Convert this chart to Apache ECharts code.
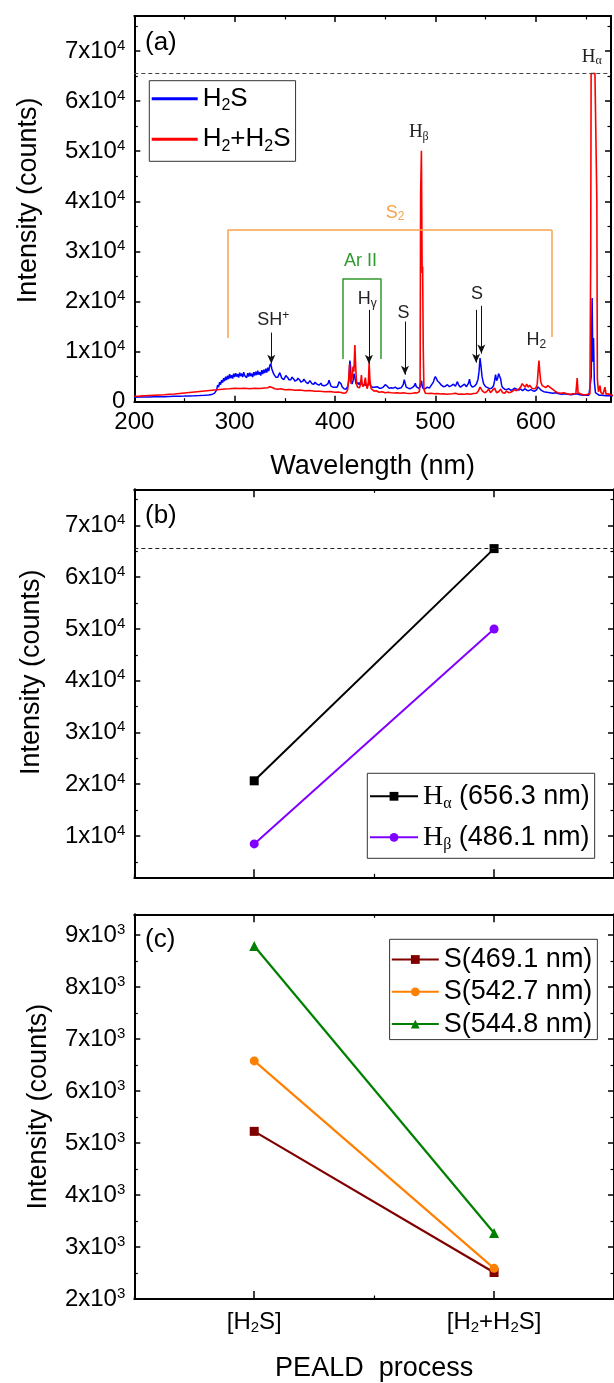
<!DOCTYPE html>
<html><head><meta charset="utf-8">
<script src="https://cdn.jsdelivr.net/npm/echarts@6/dist/echarts.min.js"></script>
<style>html,body{margin:0;padding:0;background:#fff}#c{width:614px;height:1383px}</style>
</head><body><div id="c"></div>
<script>
// ---------------- DATA ----------------
// (a) OES spectra (wavelength nm, intensity counts)
const wlH2S = [200,205,210,215,220,225,230,235,240,245,250,255,260,265,270,274,278,280,282,283,284,285,286,287,288,289,290,291,292,293,294,295,296,297,298,299,300,301,302,303,304,305,306,307,308,309,310,311,312,313,314,315,316,317,318,319,320,321,322,323,324,325,326,327,328,329,330,331,332,333,334,335,336,337,338,339,340,341,342,343,344,345,346,347,348,349,350,351,352,353,354,355,356,357,358,359,360,361,362,363,364,365,366,367,368,369,370,371,372,373,374,375,376,377,378,379,380,381,382,383,384,385,386,387,388,389,390,391,392,393,394,395,396,397,398,399,400,401,402,403,404,405,406,407,408,409,410,411,412,413,414,414.8,415.5,416.3,417,418,419,420,421,422,423,424,425,426,427,428,429,430,431,432,433,434,435,436,437,438,439,440,442,444,446,448,450,451,452,454,456,458,460,462,464,466,468,469,470,471,473,475,477,479,480,481,482,484,485.5,486.2,487,488,490,492,494,496,498,499,500,501,502,503,504,506,508,510,512,514,516,518,520,521,522,523,525,527,529,531,533,534,535,537,539,541,542.5,543.5,544.5,545.5,546.5,548,550,552,554,556,558,559,560,561,562,563,564,565,566,567,569,571,573,575,577,579,581,583,585,587,589,591,593,595,597,599,601,602,603,604,606,608,611,614,617,620,623,626,629,632,635,638,641,644,647,650,653,654.5,655.3,656.2,656.9,657.6,658.4,659.5,661,663,666,670,675,680];
const intH2S = [900,950,930,960,980,1000,990,1050,1080,1100,1120,1150,1180,1220,1280,1350,1500,1700,2300,3300,2900,3900,3400,4300,3800,4700,4100,5000,4300,5200,4500,5500,4700,5300,4600,5600,4900,5700,5000,5500,4800,5800,5100,5600,4900,5900,5200,5500,4800,5700,5000,5800,5100,5600,4900,5900,5200,6000,5300,6200,5400,5900,5200,6300,5500,6400,5700,6600,5800,6800,6100,7200,7600,6600,6000,5500,5200,4900,4700,4900,5400,5800,5200,4700,4500,4400,4700,5200,5400,4800,4400,4200,4400,4900,5000,4500,4100,4000,4300,4700,4800,4300,3900,3800,4100,4500,4400,3900,3600,3600,3900,4200,4000,3600,3400,3500,3900,3900,3500,3300,3300,3600,3700,3300,3100,3200,3400,3300,3100,3600,4300,3700,3100,2900,2900,3000,2900,2800,2900,3300,4000,4200,3600,3000,2700,2600,2500,2500,2700,3200,5000,8200,7000,4000,3500,4200,5600,4600,3500,3300,3800,3400,3700,4200,3400,3100,3300,3700,3200,3000,3400,4400,3300,3000,2900,3100,2900,2800,3000,2700,2700,2900,3400,3700,3100,2700,2800,2700,2900,2600,2700,2800,3400,4400,3600,2900,2700,2600,2800,3200,3700,3000,2700,2600,3500,4200,3000,2600,2600,2900,2700,3300,3900,4600,5000,4800,4200,4500,3800,3300,3000,3100,3400,3000,3200,3500,3100,3600,4000,3400,2900,3200,3500,3000,3700,4500,3400,2900,3100,3600,4500,6000,8700,7000,5000,3600,3000,2800,2600,2700,3200,4200,5400,4200,4600,5600,5900,4600,3300,2800,2500,2400,2600,2300,2400,2700,2500,2300,2500,2200,2600,2300,2200,2400,2200,2100,2400,3000,3300,2600,2200,2000,1900,1800,1700,1800,1600,1500,1600,1500,1400,1500,1600,1400,1300,1300,1300,1500,5000,20700,8000,12700,4000,1800,1500,1300,1300,1200,1200,1200];
const wlH2H2S = [200,205,210,215,220,225,230,235,240,245,250,255,260,265,270,275,280,285,290,295,300,305,310,315,320,325,330,333,335,336.5,338,340,343,346,350,355,360,365,370,375,380,385,390,395,400,403,406,409,411,412.5,413.5,414.5,415.3,416,417,418,418.8,419.8,420.7,421.5,422.5,423.5,424.5,425.5,426.3,427,428,429,430.2,431,432,433.2,434,434.8,436,437.5,439,441,444,447,450,453,456,459,462,465,468,471,474,477,480,482,484,484.8,485.3,486.1,486.8,487.3,487.9,488.6,490,493,496,499,502,505,508,511,514,517,520,523,526,529,532,535,538,541,543,544.5,545.5,547,549,551,553,555,557,559,561,563,565,567,569,571,573,575,577,579,581,583,585,586.5,588,589.5,591,592.5,594,596,598,600,601.5,602.5,603.2,604,605,606.5,608,610,612,614,616,618,620,622,625,628,631,634,637,640,641.3,642.2,644,647,650,652,654,654.8,655.2,657,659,660.4,660.9,661.4,662.5,664,665,667,669,670,672,674,677,680];
const intH2H2S = [1100,1120,1200,1250,1300,1350,1400,1500,1550,1650,1750,1850,1950,2050,2150,2250,2350,2450,2550,2600,2700,2650,2700,2600,2700,2650,2750,2800,3000,3100,2800,2600,2500,2600,2400,2450,2300,2350,2200,2250,2100,2100,2000,2050,1900,1950,1850,1700,1800,2300,4000,7500,4500,3600,4800,7000,6000,11300,6500,3600,2900,3200,2800,3600,5300,3600,3000,3400,4800,3500,2600,3500,7800,4200,2600,2300,2100,2200,1900,2000,1800,1900,1800,1750,1800,1700,1800,1700,1650,1700,1800,1750,2000,4000,41300,50100,25700,27000,11000,2500,1700,1650,1700,1600,1650,1550,1600,1500,1550,1600,1700,1500,1550,1500,1600,1500,1650,1700,2200,2900,3100,2100,1800,2000,2500,1800,2300,2700,1800,2000,2500,1800,1700,2100,1800,1900,2100,2400,2200,2500,2900,3600,3400,2900,3500,2900,3300,2700,2600,2700,3500,6500,8200,6000,4000,3200,3000,2800,3200,2900,2600,2300,2000,1800,1700,1800,1600,1500,1600,1600,4700,1800,1500,1400,1400,1500,1600,30000,65535,65535,65535,65535,40000,4500,2000,3200,1800,1500,2900,1500,1600,1400,1300,1300];
const saturationLevel = 65535;
// (b), (c) line intensities
const processCats = ['[H2S]', '[H2+H2S]'];
const hAlpha = [20650, 65535];
const hBeta = [8460, 50000];
const s4691 = [5225, 2510];
const s5427 = [6580, 2590];
const s5448 = [8790, 3270];
// tick values
const yTicksB = [10000,20000,30000,40000,50000,60000,70000];
const yMinorTicksB = [5000,15000,25000,35000,45000,55000,65000,75000];

// ---------------- STYLE ----------------
const SANS = '"Liberation Sans", Arial, sans-serif';
const SERIF = '"Liberation Serif", "Times New Roman", serif';
const BLK = '#000';
const tickRich = {
  m: {fontSize: 24, fontFamily: SANS, color: BLK, lineHeight: 26},
  e: {fontSize: 15, fontFamily: SANS, color: BLK, lineHeight: 18, verticalAlign: 'top'},
  s: {fontSize: 15, fontFamily: SANS, color: BLK, lineHeight: 10, verticalAlign: 'bottom'}
};
function subify(str, main, sub) {
  return '{' + main + '|' + str.replace(/(\d)/g, '}{' + sub + '|$1}{' + main + '|') + '}';
}
const nameStyle = {fontSize: 27, fontFamily: SANS, color: BLK};
const axisLine = {show: true, onZero: false, lineStyle: {color: BLK, width: 2}};
const tickMaj = {show: true, inside: true, length: 6, lineStyle: {color: BLK, width: 1.5}};
const tickMin = {show: true, splitNumber: 2, length: 3.5, lineStyle: {color: BLK, width: 1.2}};

function valAxis(extra) {
  return Object.assign({
    type: 'value', axisLine: axisLine, axisTick: tickMaj, minorTick: tickMin,
    splitLine: {show: false}, minorSplitLine: {show: false}, axisLabel: {show: false}
  }, extra);
}
const expLabel = (p) => (v) => {
  const step = Math.pow(10, p);
  if (v === 0) return '{m|0}';
  if (v % step !== 0) return '';
  return '{m|' + (v / step) + 'x10}{e|' + p + '}';
};

const xAxes = [], yAxes = [];
// ---- grid 0 (a)
xAxes.push(valAxis({gridIndex: 0, position: 'bottom', min: 200, max: 675, interval: 100,
  axisLabel: {show: true, margin: 9, fontSize: 24, fontFamily: SANS, color: BLK,
    formatter: v => (v % 100 === 0 ? String(v) : '')},
  name: 'Wavelength (nm)', nameLocation: 'middle', nameGap: 51, nameTextStyle: nameStyle}));
xAxes.push(valAxis({gridIndex: 0, position: 'top', min: 200, max: 675, interval: 100}));
yAxes.push(valAxis({gridIndex: 0, position: 'left', min: 0, max: 77000, interval: 10000,
  axisLabel: {show: true, margin: 9, formatter: expLabel(4), rich: tickRich},
  name: 'Intensity (counts)', nameLocation: 'middle', nameGap: 92,
  nameTextStyle: Object.assign({padding: [0, 0, 0, 17]}, nameStyle)}));
yAxes.push(valAxis({gridIndex: 0, position: 'right', min: 0, max: 77000, interval: 10000}));
// ---- grid 1 (b)
function catAxes(g, withLabels, name) {
  const base = {type: 'category', gridIndex: g, data: processCats, boundaryGap: true,
    splitLine: {show: false}};
  const labelCfg = withLabels ? {show: true, margin: 10, formatter: v => subify(v, 'm', 's'), rich: tickRich}
                              : {show: false};
  const main = Object.assign({}, base, {position: 'bottom', axisLine: axisLine,
    axisTick: {show: true, inside: true, length: 8, alignWithLabel: true, lineStyle: {color: BLK, width: 1.5}},
    axisLabel: labelCfg});
  if (name) Object.assign(main, {name: name, nameLocation: 'middle', nameGap: 56, nameTextStyle: nameStyle});
  const minor = Object.assign({}, base, {position: 'bottom', axisLine: {show: false},
    axisTick: {show: true, inside: true, length: 3.5, alignWithLabel: false, lineStyle: {color: BLK, width: 1.2}},
    axisLabel: {show: false}});
  const topMain = Object.assign({}, main, {position: 'top', axisLabel: {show: false}, name: ''});
  const topMinor = Object.assign({}, minor, {position: 'top'});
  return [main, minor, topMain, topMinor];
}
xAxes.push(...catAxes(1, false, ''));
function customY(g, pos, vals, len, withLine, labels) {
  return {type: 'value', gridIndex: g, position: pos, min: 2000, max: 77000,
    axisLine: withLine ? axisLine : {show: false},
    axisTick: {show: true, inside: true, length: len, customValues: vals, lineStyle: {color: BLK, width: len > 5 ? 1.5 : 1.2}},
    axisLabel: labels ? {show: true, margin: 9, customValues: vals, formatter: expLabel(4), rich: tickRich} : {show: false},
    splitLine: {show: false}};
}
const yB = customY(1, 'left', yTicksB, 6, true, true);
Object.assign(yB, {name: 'Intensity (counts)', nameLocation: 'middle', nameGap: 89,
  nameTextStyle: Object.assign({padding: [0, 0, 0, 22]}, nameStyle)});
yAxes.push(yB);
yAxes.push(customY(1, 'left', yMinorTicksB, 3.5, false, false));
yAxes.push(customY(1, 'right', yTicksB, 6, true, false));
yAxes.push(customY(1, 'right', yMinorTicksB, 3.5, false, false));
// ---- grid 2 (c)
xAxes.push(...catAxes(2, true, 'PEALD  process'));
yAxes.push(valAxis({gridIndex: 2, position: 'left', min: 2000, max: 9400, interval: 1000,
  axisLabel: {show: true, margin: 9, formatter: expLabel(3), rich: tickRich},
  name: 'Intensity (counts)', nameLocation: 'middle', nameGap: 82, nameTextStyle: nameStyle}));
yAxes.push(valAxis({gridIndex: 2, position: 'right', min: 2000, max: 9400, interval: 1000}));

// ---------------- annotations in (a) ----------------
const annRich = {
  t: {fontSize: 18, fontFamily: SANS, color: '#222', lineHeight: 20},
  h: {fontSize: 19, fontFamily: SERIF, color: '#222', lineHeight: 20},
  sb: {fontSize: 12, fontFamily: SANS, color: '#222', lineHeight: 6, verticalAlign: 'bottom'},
  sbs: {fontSize: 12, fontFamily: SERIF, color: '#222', lineHeight: 6, verticalAlign: 'bottom'},
  sp: {fontSize: 12, fontFamily: SANS, color: '#222', lineHeight: 10, verticalAlign: 'top'},
  o: {fontSize: 18, fontFamily: SANS, color: '#f7a24c', lineHeight: 20},
  os: {fontSize: 12, fontFamily: SANS, color: '#f7a24c', lineHeight: 6, verticalAlign: 'bottom'},
  g: {fontSize: 18, fontFamily: SANS, color: '#2f9a2f', lineHeight: 20}
};
const annotations = [
  {coord: [655.9, 68840], text: '{h|H}{sbs|α}'},
  {coord: [483.5, 53740], text: '{h|H}{sbs|β}'},
  {coord: [459.8, 37680], text: '{o|S}{os|2}'},
  {coord: [425.3, 28000], text: '{g|Ar II}'},
  {coord: [338.4, 16340], text: '{t|SH}{sp|+}'},
  {coord: [432.2, 20400], text: '{t|H}{sb|γ}'},
  {coord: [468.3, 17680], text: '{t|S}'},
  {coord: [541.4, 21440], text: '{t|S}'},
  {coord: [600.6, 12240], text: '{t|H}{sb|2}'}
];
const arrows = [
  [[336.5, 13800], [336.5, 7600]],
  [[433.8, 18340], [433.8, 7600]],
  [[469.7, 16000], [469.7, 5400]],
  [[540.6, 18340], [540.6, 7800]],
  [[545.8, 19140], [545.8, 9600]]
];
const brackets = [
  {color: '#f7a24c', pts: [[293, 12700], [293, 34300], [616, 34300], [616, 12900]]},
  {color: '#2f9a2f', pts: [[407.9, 8540], [407.9, 24600], [445.7, 24600], [445.7, 8540]]}
];
const mlData = [];
mlData.push({yAxis: saturationLevel, lineStyle: {type: [4, 3], color: '#444', width: 1}});
arrows.forEach(a => mlData.push([{coord: a[0], lineStyle: {color: '#111', width: 1, type: 'solid'}, symbol: 'none'},
  {coord: a[1], symbol: 'arrow', symbolSize: [6, 9]}]));
brackets.forEach(b => {
  for (let i = 0; i < b.pts.length - 1; i++) {
    mlData.push([{coord: b.pts[i], lineStyle: {color: b.color, width: 1.5, type: 'solid'}}, {coord: b.pts[i + 1]}]);
  }
});

// ---------------- SERIES ----------------
const legendRichA = {
  t: {fontSize: 26, fontFamily: SANS, color: BLK, lineHeight: 30},
  s: {fontSize: 16, fontFamily: SANS, color: BLK, lineHeight: 8, verticalAlign: 'bottom'}
};
const legendRichBC = {
  t: {fontSize: 27, fontFamily: SANS, color: BLK, lineHeight: 30},
  h: {fontSize: 28, fontFamily: SERIF, color: BLK, lineHeight: 30},
  s: {fontSize: 16, fontFamily: SERIF, color: BLK, lineHeight: 8, verticalAlign: 'bottom'}
};
const series = [
  {name: 'H2S', type: 'line', xAxisIndex: 0, yAxisIndex: 0, symbol: 'none', color: '#0000ff',
    lineStyle: {width: 1.5}, data: wlH2S.map((w, i) => [w, intH2S[i]])},
  {name: 'H2+H2S', type: 'line', xAxisIndex: 0, yAxisIndex: 0, symbol: 'none', color: '#ff0000',
    lineStyle: {width: 1.6}, data: wlH2H2S.map((w, i) => [w, intH2H2S[i]]),
    markLine: {silent: true, symbol: ['none', 'none'], label: {show: false}, animation: false, data: mlData},
    markPoint: {silent: true, symbol: 'circle', symbolSize: 1, itemStyle: {color: 'rgba(0,0,0,0)'},
      label: {show: true, position: 'inside', rich: annRich},
      data: annotations.map(a => ({coord: a.coord, label: {formatter: a.text}}))}},
  {name: 'Hα (656.3 nm)', type: 'line', xAxisIndex: 2, yAxisIndex: 2, symbol: 'rect', symbolSize: 9,
    color: '#000000', lineStyle: {width: 2}, data: hAlpha,
    markLine: {silent: true, symbol: ['none', 'none'], label: {show: false},
      data: [{yAxis: saturationLevel, lineStyle: {type: [4, 3], color: '#222', width: 1}}]}},
  {name: 'Hβ (486.1 nm)', type: 'line', xAxisIndex: 2, yAxisIndex: 2, symbol: 'circle', symbolSize: 9,
    color: '#8000ff', lineStyle: {width: 2}, data: hBeta},
  {name: 'S(469.1 nm)', type: 'line', xAxisIndex: 6, yAxisIndex: 6, symbol: 'rect', symbolSize: 9,
    color: '#800000', lineStyle: {width: 2.2}, data: s4691},
  {name: 'S(542.7 nm)', type: 'line', xAxisIndex: 6, yAxisIndex: 6, symbol: 'circle', symbolSize: 9,
    color: '#ff8000', lineStyle: {width: 2.2}, data: s5427},
  {name: 'S(544.8 nm)', type: 'line', xAxisIndex: 6, yAxisIndex: 6, symbol: 'triangle', symbolSize: 10,
    color: '#008000', lineStyle: {width: 2.2}, data: s5448}
];

const legendFmt = (name) => {
  if (name === 'H2S') return '{t|H}{s|2}{t|S}';
  if (name === 'H2+H2S') return '{t|H}{s|2}{t|+H}{s|2}{t|S}';
  if (name.indexOf('Hα') === 0) return '{h|H}{s|α}{t| (656.3 nm)}';
  if (name.indexOf('Hβ') === 0) return '{h|H}{s|β}{t| (486.1 nm)}';
  return '{t|' + name + '}';
};

const option = {
  animation: false,
  backgroundColor: '#fff',
  title: [
    {text: '(a)', left: 145, top: 30, padding: 0, textStyle: {fontSize: 26, fontWeight: 'normal', fontFamily: SANS, color: BLK}},
    {text: '(b)', left: 145, top: 503, padding: 0, textStyle: {fontSize: 26, fontWeight: 'normal', fontFamily: SANS, color: BLK}},
    {text: '(c)', left: 145, top: 927, padding: 0, textStyle: {fontSize: 26, fontWeight: 'normal', fontFamily: SANS, color: BLK}}
  ],
  grid: [
    {left: 134.3, top: 16, width: 481.7, height: 385.7},
    {left: 134.3, top: 489.3, width: 481.7, height: 388},
    {left: 134.3, top: 914.3, width: 481.7, height: 387.4}
  ],
  legend: [
    {orient: 'vertical', left: 149.3, top: 80.7, padding: [5, 5, 7, 2.4], itemGap: 12.6, itemWidth: 46, itemHeight: 3,
      icon: 'rect', borderColor: '#333', borderWidth: 1, selectedMode: false,
      data: ['H2S', 'H2+H2S'], formatter: legendFmt, textStyle: {rich: legendRichA}},
    {orient: 'vertical', left: 367.3, top: 773.3, padding: [9, 5, 6, 1.7], itemGap: 12, itemWidth: 48, itemHeight: 11,
      borderColor: '#333', borderWidth: 1, selectedMode: false,
      data: ['Hα (656.3 nm)', 'Hβ (486.1 nm)'], formatter: legendFmt, textStyle: {rich: legendRichBC}},
    {orient: 'vertical', left: 389.6, top: 939.3, padding: [6.7, 5, 2, 1.2], itemGap: 5.3, itemWidth: 47, itemHeight: 11,
      borderColor: '#333', borderWidth: 1, selectedMode: false,
      data: ['S(469.1 nm)', 'S(542.7 nm)', 'S(544.8 nm)'], formatter: legendFmt, textStyle: {rich: legendRichBC}}
  ],
  xAxis: xAxes,
  yAxis: yAxes,
  series: series
};
const chart = echarts.init(document.getElementById('c'), null, {renderer: 'canvas'});
chart.setOption(option);
</script></body></html>
